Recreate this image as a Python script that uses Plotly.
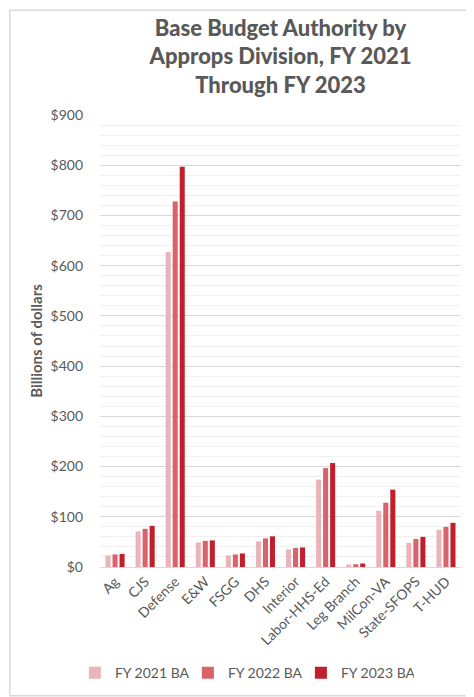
import plotly.graph_objects as go

categories = ["Ag", "CJS", "Defense", "E&W", "FSGG", "DHS", "Interior",
              "Labor-HHS-Ed", "Leg Branch", "MilCon-VA", "State-SFOPS", "T-HUD"]
fy2021 = [23, 71, 627, 49, 23, 51, 35, 174, 5, 112, 48, 74]
fy2022 = [25, 76, 728, 52, 25, 57, 38, 197, 5.5, 128, 56, 80]
fy2023 = [26, 82, 797, 53, 27, 61, 39, 207, 7, 154, 60, 88]
series_names = ["FY 2021 BA", "FY 2022 BA", "FY 2023 BA"]
colors = ["#EBB4BA", "#D8636B", "#C11F2B"]
ytick_vals = [0, 100, 200, 300, 400, 500, 600, 700, 800, 900]
ytick_text = ["$0", "$100", "$200", "$300", "$400", "$500", "$600", "$700", "$800", "$900"]

FONT = "Lato, 'Open Sans', sans-serif"
GRAY = "#595959"

fig = go.Figure()
for name, vals, col in zip(series_names, [fy2021, fy2022, fy2023], colors):
    fig.add_trace(go.Bar(x=categories, y=vals, name=name, marker_color=col,
                         marker_line_width=0))

# chart frame
fig.add_shape(type="rect", xref="paper", yref="paper",
              x0=-0.250, x1=1.045, y0=-0.285, y1=1.232,
              line=dict(color="#d9d9d9", width=1.5), fillcolor="rgba(0,0,0,0)",
              layer="below")

fig.update_layout(
    width=474, height=697,
    margin=dict(l=92, r=21, t=107, b=138),
    paper_bgcolor="white", plot_bgcolor="white",
    font=dict(family=FONT, color=GRAY, size=14),
    title=dict(text="Base Budget Authority by<br>Approps Division, FY 2021<br>Through FY 2023",
               x=0.5, xanchor="center", xref="paper", y=0.960, yanchor="middle",
               yref="container",
               font=dict(family=FONT, size=22, color=GRAY, weight=900)),
    barmode="group", bargap=0.3, bargroupgap=0.28,
    showlegend=True,
    legend=dict(orientation="h", x=0.40, xanchor="center", xref="paper",
                y=-0.235, yanchor="middle", font=dict(size=14, color=GRAY),
                bgcolor="rgba(0,0,0,0)",
                itemwidth=30, entrywidth=68, traceorder="normal"),
    xaxis=dict(type="category", tickangle=-45, tickfont=dict(size=14, color=GRAY),
               showline=True, linecolor="#d9d9d9", linewidth=1, ticks="",
               showgrid=False),
    yaxis=dict(range=[0, 900], tickmode="array", tickvals=ytick_vals, ticktext=ytick_text,
               tickfont=dict(size=14, color=GRAY), ticklabelstandoff=16,
               title=dict(text="Billions of dollars",
                          font=dict(size=15, color=GRAY, weight="bold"),
                          standoff=4),
               showgrid=True, gridcolor="#d9d9d9", gridwidth=1,
               minor=dict(dtick=20, showgrid=True, gridcolor="#f0f0f0", gridwidth=1),
               zeroline=False, ticks="", ticklen=0),
)

fig.write_html("out.html")
